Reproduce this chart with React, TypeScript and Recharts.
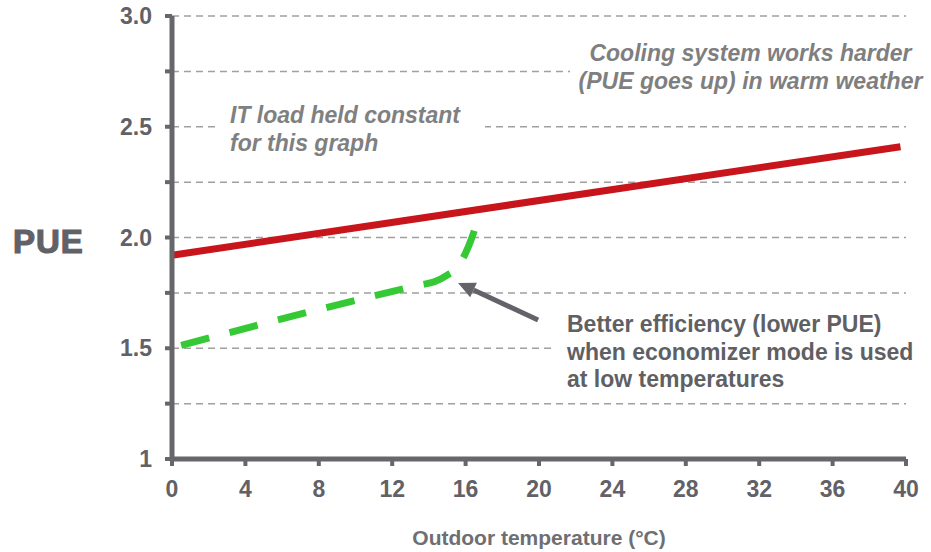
import { LineChart, Line, XAxis, YAxis, CartesianGrid, ReferenceLine } from "recharts";

const tempTicks = [0, 4, 8, 12, 16, 20, 24, 28, 32, 36, 40];
const pueTicks = [1, 1.25, 1.5, 1.75, 2, 2.25, 2.5, 2.75, 3];
const pueTickLabels = ["1", "", "1.5", "", "2.0", "", "2.5", "", "3.0"];

// chiller always on
const constantTemps = [0, 39.7];
const constantPue = [1.92, 2.41];

// economizer mode at low temperatures
const economizerTemps = [0.5, 13.5, 14.3, 15.0, 15.6, 16.0, 16.3, 16.7];
const economizerPue = [1.513, 1.785, 1.8, 1.83, 1.87, 1.93, 1.99, 2.09];

// arrow pointing at the economizer curve
const arrowTemps = [19.95, 15.59];
const arrowPue = [1.628, 1.795];

const FONT = '"Liberation Sans", Arial, sans-serif';
const AXIS_GREY = "#66676b";

const constantData = constantTemps.map((x, i) => ({ x, pue: constantPue[i] }));
const economizerData = economizerTemps.map((x, i) => ({ x, pue: economizerPue[i] }));

const ArrowShape = (props: any) => {
  const { x1, y1, x2, y2 } = props;
  const a = Math.atan2(y2 - y1, x2 - x1);
  const len = 17;
  const half = 8;
  const bx = x2 - len * Math.cos(a);
  const by = y2 - len * Math.sin(a);
  const px = -Math.sin(a) * half;
  const py = Math.cos(a) * half;
  return (
    <g>
      <line x1={x1} y1={y1} x2={bx} y2={by} stroke="#636469" strokeWidth={5} />
      <polygon
        points={`${x2},${y2} ${bx + px},${by + py} ${bx - px},${by - py}`}
        fill="#636469"
      />
    </g>
  );
};

const PueLabel = (props: any) => {
  const vb = props.viewBox || {};
  return (
    <text
      x={vb.x + 13}
      y={vb.y + vb.height / 2 + 3.5}
      dy="0.355em"
      fill="#616167"
      stroke="#616167"
      strokeWidth={1.2}
      fontSize={33}
      fontWeight="bold"
      letterSpacing={1}
      fontFamily={FONT}
    >
      PUE
    </text>
  );
};

const noteBox = {
  position: "absolute" as const,
  background: "#fff",
  fontFamily: FONT,
  fontWeight: "bold" as const,
  fontSize: 23,
  lineHeight: "28px",
  whiteSpace: "nowrap" as const,
};

export default function App() {
  return (
    <div style={{ position: "absolute", left: 0, top: 0, width: 931, height: 552, background: "#fff" }}>
      <LineChart width={931} height={552} margin={{ top: 16, right: 25, bottom: 0, left: 0 }}>
        <CartesianGrid vertical={false} stroke="#a0a0a0" strokeWidth={1.5} strokeDasharray="7 5" />
        <XAxis
          type="number"
          dataKey="x"
          domain={[0, 40]}
          ticks={tempTicks}
          height={93}
          axisLine={{ stroke: AXIS_GREY, strokeWidth: 5 }}
          tickLine={{ stroke: AXIS_GREY, strokeWidth: 4 }}
          tickSize={7}
          tickMargin={15}
          tick={{ fill: "#616167", fontSize: 23, fontWeight: "bold", fontFamily: FONT }}
          label={{
            value: "Outdoor temperature (°C)",
            position: "insideBottom",
            offset: 7,
            fill: "#6e6f73",
            fontSize: 21,
            fontWeight: "bold",
            fontFamily: FONT,
          }}
        />
        <YAxis
          type="number"
          dataKey="pue"
          domain={[1, 3]}
          ticks={pueTicks}
          width={172}
          axisLine={{ stroke: AXIS_GREY, strokeWidth: 5 }}
          tickLine={{ stroke: AXIS_GREY, strokeWidth: 4 }}
          tickSize={7}
          tickMargin={13}
          tickFormatter={(v: number) => pueTickLabels[pueTicks.indexOf(v)] ?? ""}
          tick={{ fill: "#616167", fontSize: 23, fontWeight: "bold", fontFamily: FONT }}
          label={{ content: <PueLabel /> }}
        />
        <Line
          data={constantData}
          dataKey="pue"
          type="linear"
          stroke="#c8141b"
          strokeWidth={7}
          dot={false}
          activeDot={false}
          isAnimationActive={false}
        />
        <Line
          data={economizerData}
          dataKey="pue"
          type="monotone"
          stroke="#35c935"
          strokeWidth={7}
          strokeDasharray="29 21"
          dot={false}
          activeDot={false}
          isAnimationActive={false}
        />
        <ReferenceLine
          segment={[
            { x: arrowTemps[0], y: arrowPue[0] },
            { x: arrowTemps[1], y: arrowPue[1] },
          ]}
          shape={<ArrowShape />}
        />
      </LineChart>

      <div style={{ ...noteBox, left: 218, top: 101, width: 255, paddingLeft: 12, color: "#808080", fontStyle: "italic" }}>
        IT load held constant
        <br />
        for this graph
      </div>
      <div style={{ ...noteBox, left: 570, top: 39, width: 361, textAlign: "center", color: "#7f7f7f", fontStyle: "italic" }}>
        Cooling system works harder
        <br />
        (PUE goes up) in warm weather
      </div>
      <div style={{ ...noteBox, left: 552, top: 311, width: 364, paddingLeft: 15, lineHeight: "27.5px", color: "#5f6064" }}>
        Better efficiency (lower PUE)
        <br />
        when economizer mode is used
        <br />
        at low temperatures
      </div>
    </div>
  );
}
